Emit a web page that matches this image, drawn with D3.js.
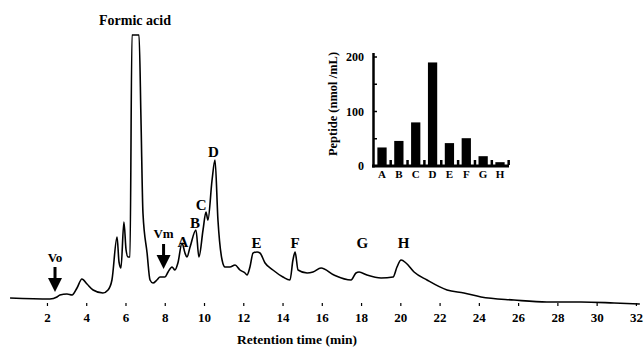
<!DOCTYPE html>
<html><head><meta charset="utf-8">
<script src="https://cdn.jsdelivr.net/npm/d3@7"></script>
<style>
body{margin:0;background:#fff}
svg{display:block}
text{font-family:"Liberation Serif","Times New Roman",serif;font-weight:bold;fill:#000}
</style>
</head><body>
<svg id="c" width="644" height="348"></svg>
<script>
// ---- chromatogram (retention time in min, detector signal in arbitrary units)
const times  = [0.12,2.15,2.51,2.66,3.02,3.28,3.53,3.78,4.04,4.35,4.85,5.11,5.31,5.57,5.67,5.77,5.92,6.03,6.13,6.23,6.33,6.69,6.79,6.89,7.10,7.25,7.40,7.60,7.76,8.01,8.17,8.37,8.52,8.67,8.88,9.03,9.13,9.29,9.59,9.74,9.95,10.10,10.20,10.41,10.56,10.71,10.92,11.07,11.32,11.58,11.83,12.09,12.19,12.34,12.50,12.70,12.85,13.11,13.51,14.02,14.38,14.53,14.64,14.79,15.25,15.55,15.96,16.62,17.49,17.74,17.90,18.30,19.02,19.63,19.83,20.04,20.29,20.70,21.36,22.38,23.24,24.11,25.79,27.46,29.20,30.89,32.20];
const signal = [5,4,6,8,9,8,15,24,19,13,10,13,23,66,41,35,81,53,46,46,268,268,183,90,50,23,20,23,26,26,31,36,33,40,60,50,46,56,73,46,73,91,83,123,143,83,43,36,36,38,33,30,28,36,50,51,50,40,33,26,23,43,51,33,30,31,35,28,23,30,31,28,25,26,36,43,40,31,23,13,10,6,3,1,1,0,-1];
const xTicks = [2,4,6,8,10,12,14,16,18,20,22,24,26,28,30,32];
const peakLabels = ["A","B","C","D","E","F","G","H"];
const peakTimes  = [8.93,9.54,9.85,10.48,12.67,14.64,18.07,20.16];
const markerLabels = ["Vo","Vm"];
const markerTimes  = [2.41,7.94];
// ---- inset: peptide content of peaks
const insetCategories = ["A","B","C","D","E","F","G","H"];
const insetValues = [34,46,80,190,42,51,18,7];
const insetTicks = [0,50,100,150,200];

const svg = d3.select("#c");
const x = d3.scaleLinear().domain([0,32]).range([7.7,635.9]);
const y = d3.scaleLinear().domain([0,270]).range([303,33]);

// trace
const pts = times.map((t,i)=>[t,signal[i]]);
svg.append("path").datum(pts)
  .attr("fill","none").attr("stroke","#000").attr("stroke-width",1.6)
  .attr("stroke-linejoin","round")
  .attr("d", d3.line().x(d=>x(d[0])).y(d=>y(d[1])).curve(d3.curveMonotoneX));

// x axis (ticks only, no domain line)
const ax = svg.append("g").attr("transform","translate(0,303)")
  .call(d3.axisBottom(x).tickValues(xTicks).tickSize(3).tickPadding(7).tickFormat(d3.format("d")));
ax.select(".domain").remove();
ax.selectAll(".tick line").attr("stroke","#000").attr("stroke-width",1.2);
ax.selectAll("text").style("font-size","13px").attr("fill","#000");

svg.append("text").attr("x",297).attr("y",344).attr("text-anchor","middle")
  .style("font-size","13.5px").text("Retention time (min)");

svg.append("text").attr("x",99).attr("y",25).style("font-size","14px").text("Formic acid");

// peak labels
const labelBase = {A:247,B:228,C:210,D:157,E:248,F:248,G:248,H:248};
svg.selectAll("text.pk").data(peakLabels).join("text").attr("class","pk")
  .attr("x",(d,i)=>x(peakTimes[i])).attr("y",d=>labelBase[d])
  .attr("text-anchor","middle").style("font-size","15px").text(d=>d);

// void volume markers with arrows
const mk = {Vo:{text:262,top:267}, Vm:{text:238,top:244}};
markerLabels.forEach((m,i)=>{
  const cx = x(markerTimes[i]);
  const o = mk[m];
  svg.append("text").attr("x",cx).attr("y",o.text).attr("text-anchor","middle")
    .style("font-size","13px").text(m);
  svg.append("rect").attr("x",cx-1.5).attr("y",o.top).attr("width",3).attr("height",13).attr("fill","#000");
  svg.append("path").attr("fill","#000")
    .attr("d",`M${cx-7},${o.top+11}L${cx+7},${o.top+11}L${cx},${o.top+25}Z`);
});

// ---- inset bar chart
const xb = d3.scaleBand().domain(insetCategories).range([374,508]).paddingInner(0.45).paddingOuter(0.2);
const yb = d3.scaleLinear().domain([0,200]).range([166,57]);
const ins = svg.append("g");
ins.selectAll("rect.bar").data(insetCategories).join("rect").attr("class","bar")
  .attr("x",d=>xb(d)).attr("width",xb.bandwidth())
  .attr("y",(d,i)=>yb(insetValues[i])).attr("height",(d,i)=>yb(0)-yb(insetValues[i]))
  .attr("fill","#000");
// axes lines
ins.append("line").attr("x1",373.5).attr("x2",373.5).attr("y1",yb(200)-4).attr("y2",167.5)
  .attr("stroke","#000").attr("stroke-width",2.5);
ins.append("line").attr("x1",372).attr("x2",509).attr("y1",166).attr("y2",166)
  .attr("stroke","#000").attr("stroke-width",3);
// y ticks (inward) and labels
ins.selectAll("line.yt").data(insetTicks).join("line").attr("class","yt")
  .attr("x1",374).attr("x2",377).attr("y1",d=>yb(d)).attr("y2",d=>yb(d))
  .attr("stroke","#000").attr("stroke-width",1.5);
ins.selectAll("text.yl").data(insetTicks.filter(d=>d%100===0)).join("text").attr("class","yl")
  .attr("x",364).attr("y",d=>yb(d)).attr("dy","0.35em").attr("text-anchor","end")
  .style("font-size","12px").text(d=>d);
// x ticks between bars
const step = xb.step();
ins.selectAll("rect.xt").data(insetCategories).join("rect").attr("class","xt")
  .attr("x",d=>xb(d)+xb.bandwidth()+(step-xb.bandwidth())/2-1).attr("y",160)
  .attr("width",2.5).attr("height",5).attr("fill","#000");
ins.selectAll("text.xl").data(insetCategories).join("text").attr("class","xl")
  .attr("x",d=>xb(d)+xb.bandwidth()/2).attr("y",178).attr("text-anchor","middle")
  .style("font-size","11px").text(d=>d);
ins.append("text").attr("transform","translate(337,104) rotate(-90)").attr("text-anchor","middle")
  .style("font-size","12.5px").text("Peptide (nmol /mL)");
</script>
</body></html>
